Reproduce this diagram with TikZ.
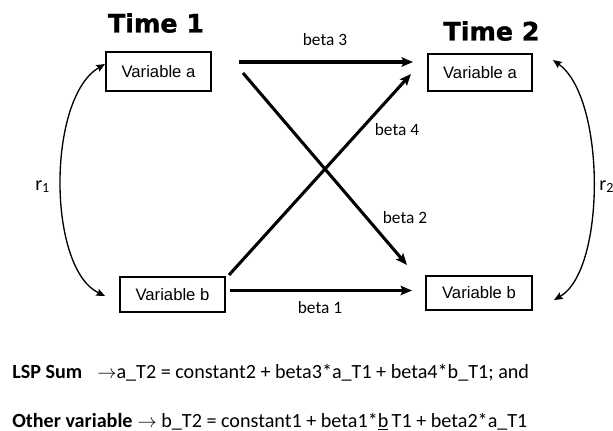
\documentclass[tikz,border=0pt]{standalone}
\usepackage{fontspec}
\setmainfont{Liberation Sans}
\newfontfamily\calfont{Carlito}
\newfontfamily\titlefont{DejaVu Sans}[FakeBold=1.2]
\usetikzlibrary{arrows.meta}
\newdimen\pxu \pxu=0.75pt
\tikzset{
  varbox/.style={draw, line width=0.8pt, inner sep=0pt, font=\fontsize{12.5pt}{14pt}\selectfont},
  title/.style={font=\titlefont\bfseries\fontsize{19pt}{22pt}\selectfont, inner sep=0pt},
  path arrow/.style={line width=2.3pt, -{Stealth[length=8.5pt,width=7pt,inset=1.5pt]}},
  corr/.style={line width=1pt, {Stealth[length=6.5pt,width=5.5pt,inset=1pt]}-{Stealth[length=6.5pt,width=5.5pt,inset=1pt]}},
  betalbl/.style={font=\calfont\fontsize{13pt}{15pt}\selectfont, inner sep=0pt},
  rlbl/.style={font=\calfont\fontsize{15pt}{17pt}\selectfont, inner sep=0pt},
  eqn/.style={font=\calfont\fontsize{15.1pt}{17pt}\selectfont, inner sep=0pt, anchor=base west}
}
\begin{document}
\begin{tikzpicture}[x=0.75pt, y=-0.75pt]
\useasboundingbox (0,0) rectangle (613,430);
% titles
\node[title] (t1) at (156,23) {Time 1};
\node[title] (t2) at (491.5,31) {Time 2};
% boxes
\node[varbox, minimum width=105\pxu, minimum height=39\pxu] (va1) at (158.5,71.5) {Variable a};
\node[varbox, minimum width=104\pxu, minimum height=37\pxu] (va2) at (480,72.5) {Variable a};
\node[varbox, minimum width=105\pxu, minimum height=35\pxu] (vb1) at (172.5,294.5) {Variable b};
\node[varbox, minimum width=106\pxu, minimum height=34\pxu] (vb2) at (479,293) {Variable b};
% arrow end points
\coordinate (b3s) at (239,62);  \coordinate (b3e) at (413,62);
\coordinate (b4s) at (229,275); \coordinate (b4e) at (411,74);
\coordinate (b2s) at (243,73);  \coordinate (b2e) at (407,265);
\coordinate (b1s) at (230,290.5); \coordinate (b1e) at (412,290.5);
\draw[path arrow] (b3s) -- (b3e);
\draw[path arrow] (b4s) -- (b4e);
\draw[path arrow] (b2s) -- (b2e);
\draw[path arrow] (b1s) -- (b1e);
% beta labels
\node[betalbl] (l3) at (325,40) {beta 3};
\node[betalbl] (l4) at (397,130) {beta 4};
\node[betalbl] (l2) at (405,218) {beta 2};
\node[betalbl] (l1) at (320,308) {beta 1};
% correlations
\coordinate (r1t) at (105,64);  \coordinate (r1b) at (105,296);
\coordinate (r2t) at (553,60);  \coordinate (r2b) at (554,300);
\draw[corr] (r1t) .. controls (47,98) and (47,268) .. (r1b);
\draw[corr] (r2t) .. controls (606,98) and (606,270) .. (r2b);
\node[rlbl, anchor=base west] (r1) at (35,190) {r\textsubscript{1}};
\node[rlbl, anchor=base west] (r2) at (599,190) {r\textsubscript{2}};
% equations
\node[eqn] (e1) at (12,378) {\textbf{LSP Sum}\hspace{0.75em}$\rightarrow$a\_T2 = constant2 + beta3*a\_T1 + beta4*b\_T1; and};
\node[eqn] (e2) at (12,427) {\textbf{Other variable}\hspace{0.25em}$\rightarrow$ b\_T2 = constant1 + beta1*\underline{b}\,T1 + beta2*a\_T1};
\end{tikzpicture}
\end{document}
